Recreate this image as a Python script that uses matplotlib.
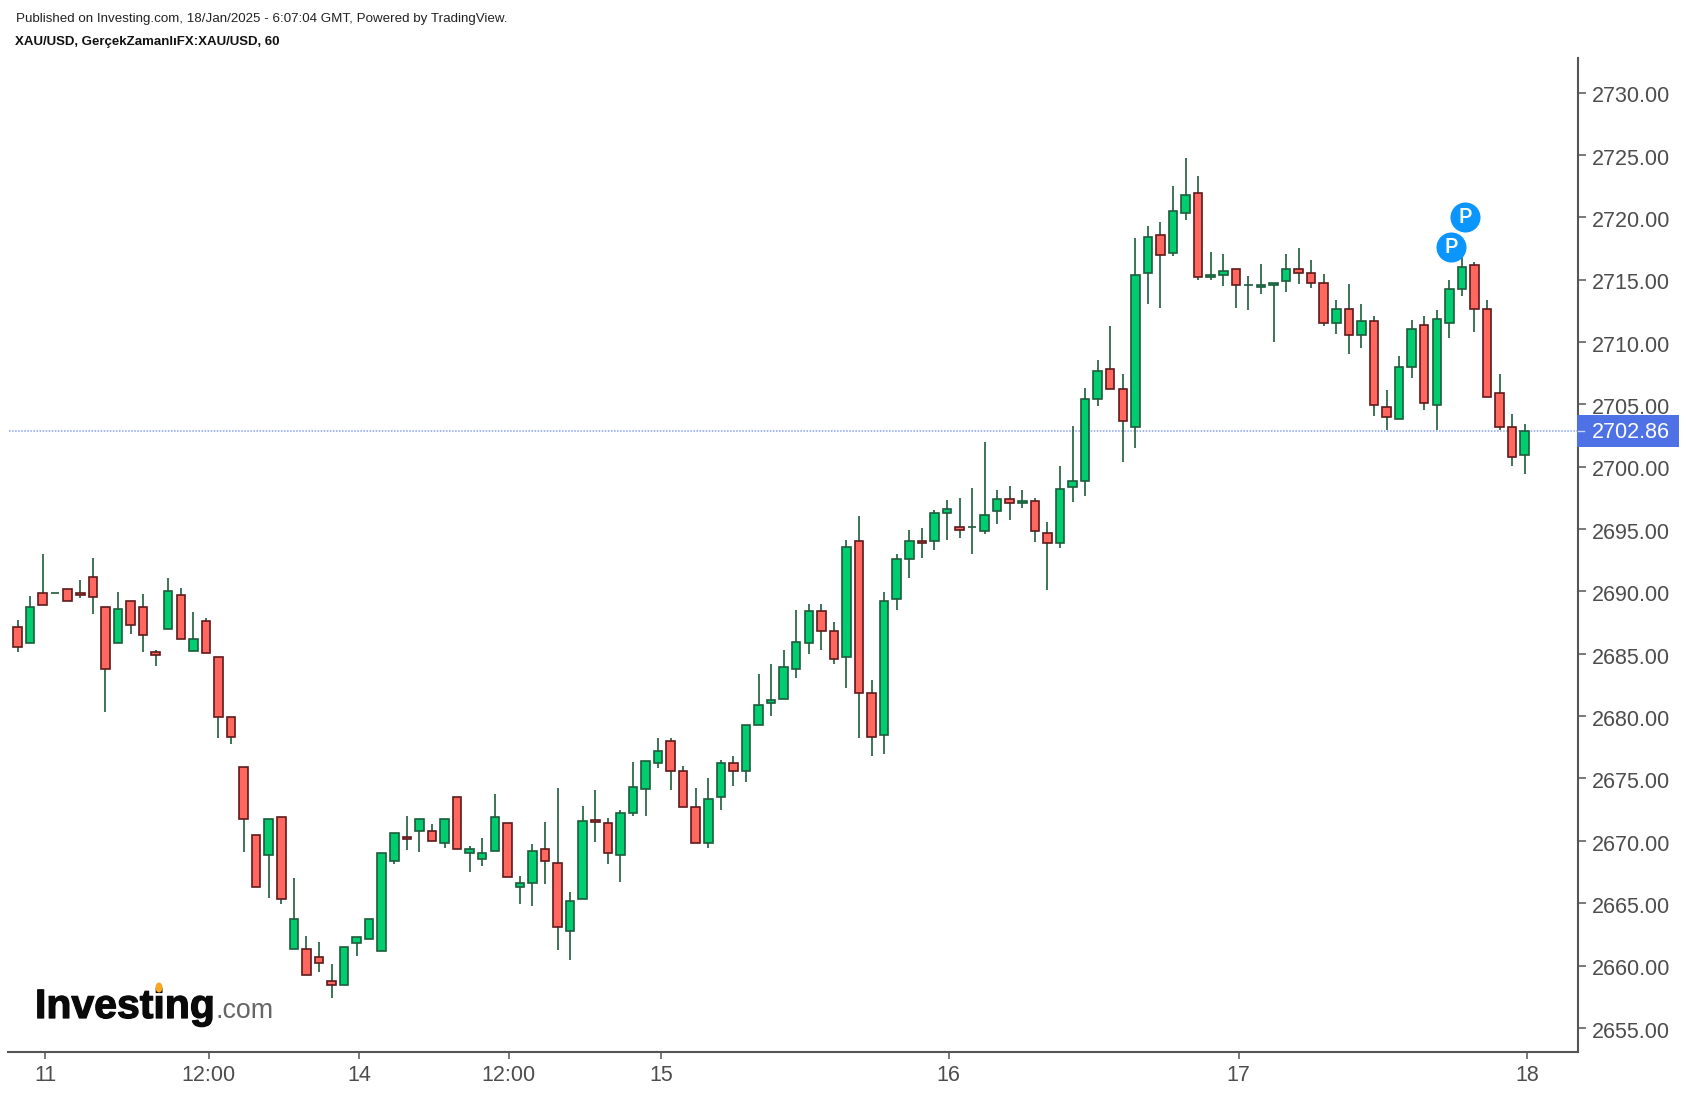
import matplotlib
matplotlib.use("Agg")
import matplotlib.pyplot as plt
import matplotlib.patheffects as pe
from matplotlib.transforms import ScaledTranslation

opens = [2687.18,2685.87,2689.90,2689.87,2690.22,2689.90,2691.19,2688.78,2685.87,2689.26,
 2688.78,2685.12,2686.99,2689.74,2685.22,2687.66,2684.77,2679.96,2675.95,2670.50,
 2668.87,2671.94,2661.33,2661.35,2660.71,2658.79,2658.44,2661.81,2662.13,2661.17,
 2668.38,2670.34,2670.79,2670.82,2669.83,2673.54,2669.00,2668.54,2669.19,2671.46,
 2666.30,2666.62,2669.37,2668.25,2662.77,2665.34,2671.64,2671.46,2668.86,2672.23,
 2674.16,2676.24,2678.03,2675.63,2672.74,2669.83,2673.52,2676.27,2675.60,2679.29,
 2681.03,2681.37,2683.77,2685.86,2688.45,2686.85,2684.73,2694.06,2681.87,2678.48,
 2689.39,2692.59,2694.06,2694.04,2696.28,2695.19,2695.13,2694.84,2696.44,2697.43,
 2697.08,2697.27,2694.70,2693.88,2698.37,2698.85,2705.43,2707.86,2706.26,2703.18,
 2715.53,2718.61,2717.14,2720.35,2721.98,2715.19,2715.37,2715.88,2714.55,2714.38,
 2714.55,2714.89,2715.88,2715.56,2714.76,2711.52,2712.67,2710.56,2711.71,2704.82,
 2703.82,2707.99,2711.39,2704.95,2711.52,2714.25,2716.20,2712.67,2705.94,2703.21,
 2700.94]
highs = [2687.71,2689.64,2693.00,2689.91,2690.22,2690.92,2692.68,2688.78,2689.96,2689.26,
 2689.80,2685.30,2691.08,2690.28,2688.35,2687.87,2684.77,2679.96,2675.95,2670.50,
 2671.78,2671.94,2666.99,2662.37,2661.89,2660.12,2661.51,2662.32,2663.76,2669.05,
 2670.66,2671.99,2671.78,2671.35,2671.78,2673.54,2669.56,2670.20,2673.76,2671.46,
 2667.15,2669.72,2671.51,2674.24,2665.87,2672.77,2674.08,2671.81,2672.45,2676.30,
 2676.43,2678.22,2678.22,2675.98,2674.21,2675.01,2676.46,2676.78,2679.32,2683.35,
 2684.15,2685.30,2688.48,2688.96,2688.96,2687.51,2694.09,2696.01,2682.86,2689.92,
 2692.97,2694.89,2695.05,2696.50,2697.30,2697.46,2698.26,2701.95,2698.10,2698.42,
 2698.10,2697.46,2695.53,2700.02,2703.23,2706.29,2708.53,2711.26,2707.41,2718.31,
 2719.28,2719.60,2722.48,2724.73,2723.29,2717.19,2717.03,2715.88,2715.27,2716.23,
 2714.76,2717.03,2717.51,2716.55,2715.43,2713.34,2714.63,2713.02,2712.06,2706.13,
 2708.85,2711.74,2712.06,2712.54,2714.94,2716.98,2716.39,2713.34,2707.41,2704.20,
 2703.40]
lows = [2685.17,2685.87,2688.91,2689.87,2689.23,2689.50,2688.19,2680.36,2685.87,2686.61,
 2685.17,2684.05,2686.99,2686.19,2685.22,2685.06,2678.27,2677.79,2669.13,2666.30,
 2665.44,2664.96,2661.33,2659.24,2659.51,2657.42,2658.44,2660.79,2662.13,2661.17,
 2668.17,2669.29,2669.13,2669.99,2669.45,2669.35,2667.53,2668.01,2669.19,2667.10,
 2664.96,2664.80,2666.57,2661.27,2660.47,2665.34,2669.93,2668.17,2666.73,2672.02,
 2672.02,2675.87,2674.10,2672.71,2669.83,2669.45,2672.50,2674.42,2674.75,2679.29,
 2680.04,2681.37,2683.08,2685.00,2685.32,2684.20,2682.27,2678.27,2676.82,2676.98,
 2688.53,2691.10,2692.70,2693.34,2694.14,2694.30,2693.02,2694.62,2695.43,2695.75,
 2696.71,2693.98,2690.13,2693.50,2697.19,2697.67,2704.90,2706.23,2700.40,2701.53,
 2713.08,2712.75,2716.92,2719.81,2715.00,2715.00,2714.52,2712.75,2712.59,2713.88,
 2710.03,2714.04,2714.68,2714.36,2711.31,2710.67,2709.07,2709.55,2704.09,2702.97,
 2703.82,2707.14,2704.57,2702.92,2710.35,2713.71,2710.83,2705.59,2702.97,2700.08,
 2699.44]
closes = [2685.55,2688.78,2688.91,2689.91,2689.23,2689.69,2689.56,2683.78,2688.62,2687.31,
 2686.51,2684.88,2690.06,2686.19,2686.21,2685.06,2679.93,2678.33,2671.75,2666.30,
 2671.78,2665.34,2663.76,2659.24,2660.20,2658.44,2661.51,2662.32,2663.76,2669.05,
 2670.66,2670.12,2671.78,2669.99,2671.78,2669.35,2669.37,2669.05,2671.94,2667.10,
 2666.65,2669.21,2668.38,2663.09,2665.20,2671.62,2671.54,2669.03,2672.26,2674.34,
 2676.43,2677.23,2675.60,2672.71,2669.83,2673.38,2676.27,2675.60,2679.32,2680.92,
 2681.27,2683.97,2685.91,2688.45,2686.82,2684.57,2693.58,2681.85,2678.32,2689.25,
 2692.62,2694.06,2693.85,2696.31,2696.63,2694.95,2695.19,2696.15,2697.43,2697.08,
 2697.27,2694.84,2693.88,2698.23,2698.87,2705.46,2707.70,2706.23,2703.67,2715.40,
 2718.45,2716.98,2720.53,2721.82,2715.21,2715.40,2715.72,2714.57,2714.60,2714.60,
 2714.76,2715.88,2715.53,2714.73,2711.52,2712.67,2710.56,2711.71,2704.95,2703.99,
 2708.02,2711.07,2705.11,2711.87,2714.28,2716.04,2712.65,2705.59,2703.18,2700.78,
 2702.89]

y_ticks = [2655, 2660, 2665, 2670, 2675, 2680, 2685, 2690, 2695, 2700, 2705,
           2710, 2715, 2720, 2725, 2730]
x_tick_pos = [2.19, 15.22, 27.19, 39.10, 51.24, 74.13, 97.22, 120.17]
x_tick_labels = ["11", "12:00", "14", "12:00", "15", "16", "17", "18"]
last_price = 2702.86
pin_bars = [114.13, 115.25]
pin_prices = [2717.64, 2720.05]
header_line = "Published on Investing.com, 18/Jan/2025 - 6:07:04 GMT, Powered by TradingView."
title_line = "XAU/USD, GerçekZamanlıFX:XAU/USD, 60"

W, H = 1686, 1094
LEFT, RIGHT, TOP, BOTTOM = 8.5, 1578, 58, 1052
GREY = "#555555"
plt.rcParams["font.family"] = ["Liberation Sans", "DejaVu Sans"]

fig = plt.figure(figsize=(W / 100, H / 100), dpi=100, facecolor="white")
ax = fig.add_axes([LEFT / W, 1 - BOTTOM / H, (RIGHT - LEFT) / W, (BOTTOM - TOP) / H])
step = 12.56
ax.set_xlim((LEFT - 17.5) / step, (RIGHT - 17.5) / step)
ax.set_ylim(2700 - (BOTTOM - 466.7) / 12.47, 2700 + (466.7 - TOP) / 12.47)
ax.set_facecolor("white")

ax.axhline(last_price, color="#86a0f2", lw=1.1, ls=(0, (1, 1)), zorder=1)

n = range(len(opens))
up = [closes[i] >= opens[i] for i in n]
ax.vlines(list(n), lows, highs, color="#1e5c3c", lw=1.2, zorder=2)
bot = [min(opens[i], closes[i]) for i in n]
hgt = [abs(opens[i] - closes[i]) for i in n]
ax.bar(list(n), hgt, bottom=bot, width=0.68,
       color=["#00cc70" if u else "#ff675f" for u in up],
       edgecolor=["#1e5c3c" if u else "#5e1a1a" for u in up],
       linewidth=1.2, zorder=3)

ax.scatter(pin_bars, pin_prices, s=468, color="#0a95ff", linewidths=0, zorder=4, clip_on=False)
for px, py in zip(pin_bars, pin_prices):
    ax.text(px, py - 0.03, "P", color="white", fontsize=15, family="Roboto", fontweight="medium",
            ha="center", va="center", zorder=5)

for s in ("top", "left"):
    ax.spines[s].set_visible(False)
for s in ("right", "bottom"):
    ax.spines[s].set_color(GREY)
    ax.spines[s].set_linewidth(1.5)

ax.set_yticks(y_ticks)
ax.set_yticklabels([f"{v:.2f}" for v in y_ticks])
ax.yaxis.tick_right()
ax.tick_params(axis="y", length=6.0, width=1.1, color=GREY, labelcolor="#4d4d4d",
               labelsize=15.5, pad=4.2)
ax.set_xticks(x_tick_pos)
ax.set_xticklabels(x_tick_labels)
ax.tick_params(axis="x", length=5.0, width=1.1, color=GREY, labelcolor="#4d4d4d",
               labelsize=15.5, pad=4.4)
label_shift = ScaledTranslation(0, -1.8 / 100, fig.dpi_scale_trans)
for lab in ax.get_yticklabels():
    lab.set_transform(lab.get_transform() + label_shift)

# last price flag
trans = ax.get_yaxis_transform()
box_h = 31.7 / (BOTTOM - TOP) * (ax.get_ylim()[1] - ax.get_ylim()[0])
span = RIGHT - LEFT
ax.add_patch(plt.Rectangle((1.0 - 1 / span, last_price - box_h / 2), 102 / span, box_h,
                           transform=trans, facecolor="#4e72e6", edgecolor="none",
                           clip_on=False, zorder=6))
ax.plot([1.0, 1.0 + 6 / span], [last_price, last_price], transform=trans,
        color="#c9d5f8", lw=1.0, clip_on=False, zorder=7)
ax.text(1.0 + 13.5 / span, last_price - 0.1, f"{last_price:.2f}", transform=trans,
        color="white", fontsize=15.5, ha="left", va="center", zorder=7)

# header text
fig.text(16 / W, 1 - 19 / H, header_line, fontsize=9.63, color="#222222", ha="left", va="center")
fig.text(15 / W, 1 - 42 / H, title_line, fontsize=9.55, fontweight="bold", color="#111111",
         ha="left", va="center")

# logo
fig.text(35 / W, 1 - 1018 / H, "Investing", fontsize=29.5, fontweight="bold", color="#0a0a0a",
         ha="left", va="baseline",
         path_effects=[pe.withStroke(linewidth=0.9, foreground="#0a0a0a")])
fig.text(215 / W, 1 - 1018 / H, ".com", fontsize=19.3, color="#666666", ha="left", va="baseline")
fig.add_artist(matplotlib.patches.Ellipse((159 / W, 1 - 987.5 / H), 7 / W, 10 / H,
                                          facecolor="#f7a823", edgecolor="none",
                                          transform=fig.transFigure, zorder=10))

fig.savefig("out.png", dpi=100, facecolor="white")
